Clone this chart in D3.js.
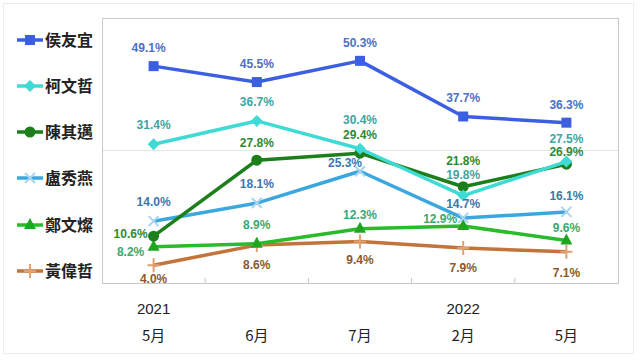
<!DOCTYPE html>
<html>
<head>
<meta charset="utf-8">
<script src="https://cdn.jsdelivr.net/npm/d3@7"></script>
<style>
  body { margin: 0; background: #fff; }
  svg { display: block; }
</style>
</head>
<body>
<div id="chart"></div>
<script>
// data
const months = ["5月", "6月", "7月", "2月", "5月"]
const years = ["2021", "", "", "2022", ""]
const names = ["侯友宜", "柯文哲", "陳其邁", "盧秀燕", "鄭文燦", "黃偉哲"]
const hou = [49.1, 45.5, 50.3, 37.7, 36.3]
const ko = [31.4, 36.7, 30.4, 19.8, 27.5]
const chen = [10.6, 27.8, 29.4, 21.8, 26.9]
const lu = [14.0, 18.1, 25.3, 14.7, 16.1]
const cheng = [8.2, 8.9, 12.3, 12.9, 9.6]
const huang = [4.0, 8.6, 9.4, 7.9, 7.1]

const seriesValues = [hou, ko, chen, lu, cheng, huang]

// styling per series
const styles = [
  { line: "#3b5fe0", text: "#4d6fc6", marker: "square", mfill: "#3b5fe0" },
  { line: "#3fdad4", text: "#3ea59f", marker: "diamond", mfill: "#3fdad4" },
  { line: "#1c7f1c", text: "#2f8a33", marker: "circle", mfill: "#1c7f1c" },
  { line: "#3aa8de", text: "#3c78ae", marker: "cross", mfill: "#a8d4f2" },
  { line: "#2abb2a", text: "#3aa870", marker: "triangle", mfill: "#1fa51f" },
  { line: "#c4733a", text: "#8a5a2e", marker: "plus", mfill: "#e0a070" }
]

// label offsets [dx, dy] relative to the point (baseline)
const labelOffsets = [
  [[-5, -14], [0, -14], [0, -14], [0, -14], [0, -14]],
  [[0, -15], [0, -15], [0, -25], [0, -17], [0, -19]],
  [[-23, 2], [0, -13], [0, -14], [0, -22], [0, -8]],
  [[0, -15], [0, -15], [-15, -4], [0, -10], [0, -12]],
  [[-23, 9], [0, -15], [0, -10], [-23, -3], [0, -9]],
  [[0, 18], [0, 24], [0, 23], [0, 24], [0, 25]]
]

const width = 640
const height = 360
const plot = { left: 102, right: 618, top: 18, bottom: 283 }

const svg = d3.select("#chart").append("svg")
  .attr("width", width)
  .attr("height", height)

// faint outer frame
svg.append("rect")
  .attr("x", 3.5).attr("y", 3.5)
  .attr("width", 630).attr("height", 350)
  .attr("fill", "none")
  .attr("stroke", "#ededed")

const x = d3.scaleBand().domain(d3.range(months.length)).range([plot.left, plot.right])
const y = d3.scaleLinear().domain([0, 60]).range([plot.bottom, plot.top])
const cx = i => x(i) + x.bandwidth() / 2

// gridline at 30
svg.append("g")
  .selectAll("line")
  .data([30])
  .join("line")
  .attr("x1", plot.left).attr("x2", plot.right)
  .attr("y1", d => y(d)).attr("y2", d => y(d))
  .attr("stroke", "#e4e4e4")

// plot border
svg.append("rect")
  .attr("x", plot.left + 0.5).attr("y", plot.top + 0.5)
  .attr("width", plot.right - plot.left).attr("height", plot.bottom - plot.top)
  .attr("fill", "none")
  .attr("stroke", "#c8c8c8")

// category boundary ticks
svg.append("g")
  .selectAll("line")
  .data(d3.range(1, months.length))
  .join("line")
  .attr("x1", d => x(d)).attr("x2", d => x(d))
  .attr("y1", plot.bottom - 5).attr("y2", plot.bottom)
  .attr("stroke", "#c8c8c8")

// x labels
svg.append("g")
  .selectAll("text")
  .data(months)
  .join("text")
  .attr("x", (d, i) => cx(i))
  .attr("y", 341)
  .attr("text-anchor", "middle")
  .attr("font-family", "'Noto Sans CJK TC', sans-serif")
  .attr("font-size", 15)
  .attr("fill", "#222")
  .text(d => d)

svg.append("g")
  .selectAll("text")
  .data(years)
  .join("text")
  .attr("x", (d, i) => cx(i))
  .attr("y", 314)
  .attr("text-anchor", "middle")
  .attr("font-family", "'Liberation Sans', Arial, sans-serif")
  .attr("font-size", 15)
  .attr("fill", "#222")
  .text(d => d)

function drawMarker(g, type, px, py, st) {
  if (type === "square") {
    g.append("rect").attr("x", px - 5).attr("y", py - 5).attr("width", 10).attr("height", 10).attr("fill", st.mfill)
  } else if (type === "diamond") {
    g.append("path").attr("d", `M${px},${py - 6}L${px + 6},${py}L${px},${py + 6}L${px - 6},${py}Z`).attr("fill", st.mfill)
  } else if (type === "circle") {
    g.append("circle").attr("cx", px).attr("cy", py).attr("r", 5.5).attr("fill", st.mfill)
  } else if (type === "cross") {
    g.append("path").attr("d", `M${px - 5},${py - 5}L${px + 5},${py + 5}M${px + 5},${py - 5}L${px - 5},${py + 5}`)
      .attr("stroke", st.mfill).attr("stroke-width", 2)
  } else if (type === "triangle") {
    g.append("path").attr("d", `M${px},${py - 7}L${px + 6},${py + 4}L${px - 6},${py + 4}Z`).attr("fill", st.mfill)
  } else if (type === "plus") {
    g.append("path").attr("d", `M${px - 6},${py}L${px + 6},${py}M${px},${py - 7}L${px},${py + 7}`)
      .attr("stroke", st.mfill).attr("stroke-width", 2)
  }
}

const line = d3.line().x((d, i) => cx(i)).y(d => y(d))

// draw from bottom series to top so 侯友宜 sits on top
for (let s = seriesValues.length - 1; s >= 0; s--) {
  const vals = seriesValues[s]
  const st = styles[s]
  const g = svg.append("g")
  g.append("path")
    .attr("d", line(vals))
    .attr("fill", "none")
    .attr("stroke", st.line)
    .attr("stroke-width", 3.5)
    .attr("stroke-linejoin", "round")
  vals.forEach((v, i) => drawMarker(g, st.marker, cx(i), y(v), st))
}

// value labels
for (let s = 0; s < seriesValues.length; s++) {
  const st = styles[s]
  svg.append("g")
    .selectAll("text")
    .data(seriesValues[s])
    .join("text")
    .attr("x", (d, i) => cx(i) + labelOffsets[s][i][0])
    .attr("y", (d, i) => y(d) + labelOffsets[s][i][1])
    .attr("text-anchor", "middle")
    .attr("font-family", "'Liberation Sans', Arial, sans-serif")
    .attr("font-weight", "bold")
    .attr("font-size", 12)
    .attr("fill", st.text)
    .text(d => d.toFixed(1) + "%")
}

// legend
const legendY = [40, 86, 132, 178, 225, 271]
names.forEach((n, s) => {
  const st = styles[s]
  const g = svg.append("g")
  g.append("line")
    .attr("x1", 17).attr("x2", 43)
    .attr("y1", legendY[s]).attr("y2", legendY[s])
    .attr("stroke", st.line).attr("stroke-width", 3.5)
  drawMarker(g, st.marker, 30, legendY[s], st)
  g.append("text")
    .attr("x", 45).attr("y", legendY[s] + 6)
    .attr("font-family", "'Noto Sans CJK TC', sans-serif")
    .attr("font-weight", "bold")
    .attr("font-size", 16)
    .attr("fill", "#222")
    .text(n)
})
</script>
</body>
</html>
